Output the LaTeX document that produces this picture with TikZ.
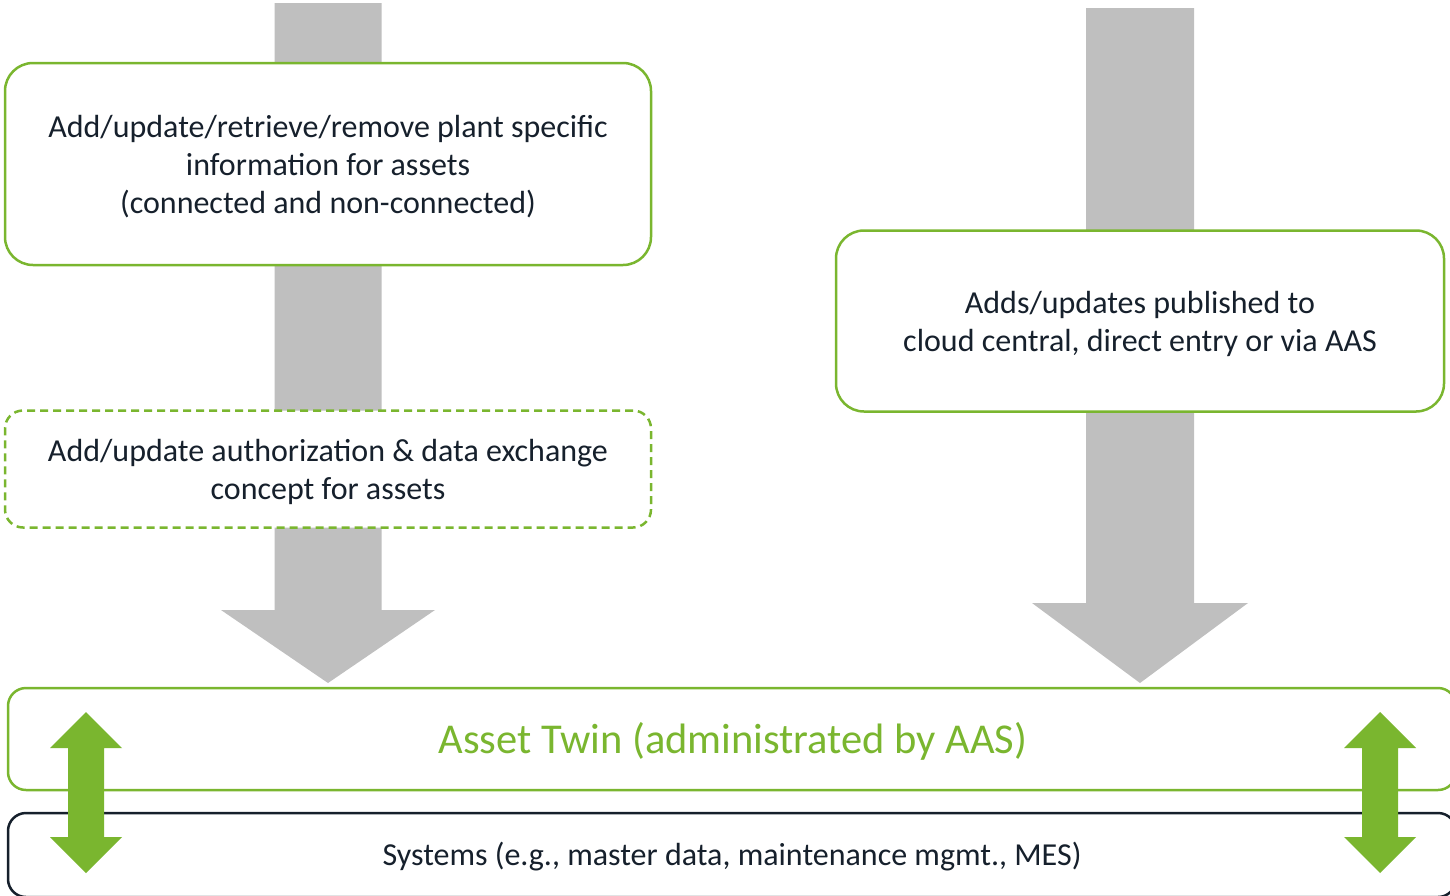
\documentclass[tikz,border=0pt]{standalone}
\usepackage{fontspec}
\setmainfont{Carlito}
\usetikzlibrary{calc}
\definecolor{grn}{HTML}{7AB62F}
\definecolor{gry}{HTML}{BFBFBF}
\definecolor{ink}{HTML}{16202C}
\begin{document}
\begin{tikzpicture}[x=1pt,y=-1pt,
  box/.style={draw=grn, line width=2.5pt, rounded corners=28pt, fill=white,
    inner sep=0pt, outer sep=0pt},
  boxtext/.style={text=ink, align=center, font=\fontsize{32}{38}\selectfont, yshift=-3pt},
  dashbox/.style={box, rounded corners=18pt, dash pattern=on 8pt off 5pt},
  band/.style={draw=grn, line width=2.5pt, rounded corners=18pt, fill=white,
    inner sep=0pt, outer sep=0pt},
  sysband/.style={band, draw=ink},
  flow/.style={fill=gry},
  twoway/.style={fill=grn}]
\useasboundingbox (0,0) rectangle (1450,895);
\clip (0,0) rectangle (1450,895);

% free ends of the grey flows
\coordinate (ltop) at (328,3);
\coordinate (ltip) at (328,683);
\coordinate (rtop) at (1140,8);
\coordinate (rtip) at (1140,683);

% grey flow arrows (behind the boxes)
\fill[flow] ($(ltop)+(-53.5,0)$) -- ($(ltop)+(53.5,0)$) -- ($(ltip)+(53.5,-73)$)
  -- ($(ltip)+(107,-73)$) -- (ltip) -- ($(ltip)+(-107,-73)$) -- ($(ltip)+(-53.5,-73)$) -- cycle;
\fill[flow] ($(rtop)+(-54,0)$) -- ($(rtop)+(54,0)$) -- ($(rtip)+(54,-80)$)
  -- ($(rtip)+(108,-80)$) -- (rtip) -- ($(rtip)+(-108,-80)$) -- ($(rtip)+(-54,-80)$) -- cycle;

% boxes
\node[box, minimum width=646pt, minimum height=202pt,
  label={[boxtext]center:{Add/update/retrieve/remove plant specific\\information for assets\\(connected and non-connected)}}]
  (plant) at (328,164) {};
\node[dashbox, minimum width=646pt, minimum height=117pt,
  label={[boxtext]center:{Add/update authorization \& data exchange\\concept for assets}}]
  (auth) at (328,469) {};
\node[box, minimum width=608pt, minimum height=181pt,
  label={[boxtext]center:{Adds/updates published to\\cloud central, direct entry or via AAS}}]
  (cloud) at (1140,321) {};

\node[band, minimum width=1448pt, minimum height=102pt] (twin) at (732,739) {};
\node[text=grn, font=\fontsize{42.5}{48}\selectfont] (twintxt) at (733,741) {Asset Twin (administrated by AAS)};

\node[sysband, minimum width=1448pt, minimum height=84pt] (sys) at (732,855) {};
\node[text=ink, font=\fontsize{32}{38}\selectfont] (systxt) at (732,857) {Systems (e.g., master data, maintenance mgmt., MES)};

% green two-way arrows
\foreach \cx/\nm in {86/la, 1380/ra}{
  \coordinate (\nm) at (\cx,712);
  \fill[twoway] (\nm) -- ++(36,36) -- ++(-18,0) -- ++(0,89) -- ++(18,0) -- ++(-36,36)
    -- ++(-36,-36) -- ++(18,0) -- ++(0,-89) -- ++(-18,0) -- cycle;
}
\end{tikzpicture}
\end{document}
